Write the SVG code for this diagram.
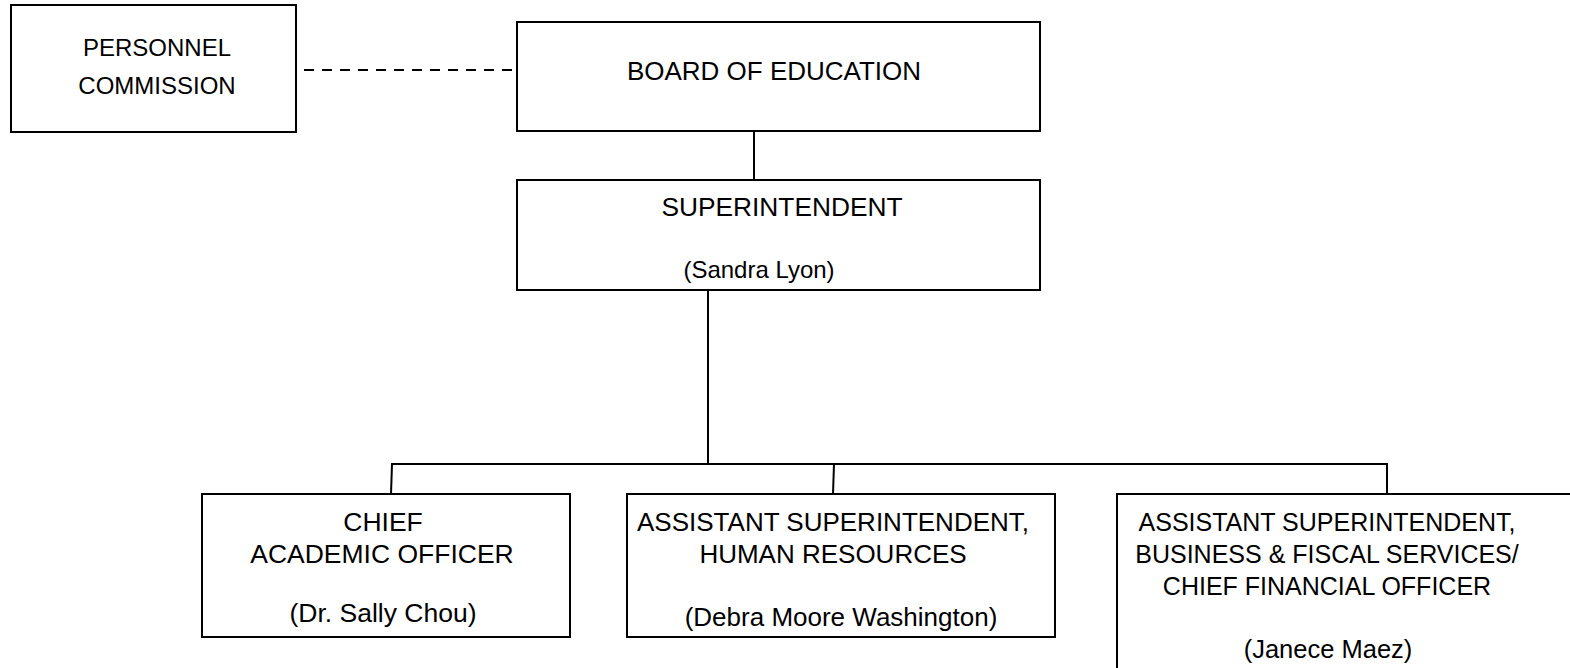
<svg xmlns="http://www.w3.org/2000/svg" width="1570" height="668" viewBox="0 0 1570 668">
<style>
.box{fill:#fff;stroke:#000;stroke-width:2}
.ln{fill:none;stroke:#000;stroke-width:2}
.t{font-family:"Liberation Sans",Arial,sans-serif;font-size:24px;fill:#000;text-anchor:middle}
</style>
<rect width="1570" height="668" fill="#fff"/>
<g id="connectors">
<line class="ln" x1="304" y1="70" x2="517" y2="70" stroke-dasharray="10,8"/>
<line class="ln" x1="754" y1="131" x2="754" y2="180"/>
<line class="ln" x1="708" y1="290" x2="708" y2="464"/>
<polyline class="ln" points="391,494 392,464 1387,464 1387,494"/>
<line class="ln" x1="834" y1="464" x2="833" y2="494"/>
</g>
<g id="personnel">
<rect class="box" x="11" y="5" width="285" height="127"/>
<text class="t" x="157" y="56">PERSONNEL</text>
<text class="t" x="157" y="94">COMMISSION</text>
</g>
<g id="board">
<rect class="box" x="517" y="22" width="523" height="109"/>
<text class="t" x="774" y="80" style="font-size:26px">BOARD OF EDUCATION</text>
</g>
<g id="superintendent">
<rect class="box" x="517" y="180" width="523" height="110"/>
<text class="t" x="782" y="216" style="font-size:26.3px">SUPERINTENDENT</text>
<text class="t" x="759" y="278">(Sandra Lyon)</text>
</g>
<g id="cao">
<rect class="box" x="202" y="494" width="368" height="143"/>
<text class="t" x="383" y="531" style="font-size:26.5px">CHIEF</text>
<text class="t" x="382" y="563" style="font-size:26.5px">ACADEMIC OFFICER</text>
<text class="t" x="383" y="622" style="font-size:26.5px">(Dr. Sally Chou)</text>
</g>
<g id="hr">
<rect class="box" x="627" y="494" width="428" height="143"/>
<text class="t" x="833" y="531" style="font-size:26px">ASSISTANT SUPERINTENDENT,</text>
<text class="t" x="833" y="563" style="font-size:26px">HUMAN RESOURCES</text>
<text class="t" x="841" y="626" style="font-size:26px">(Debra Moore Washington)</text>
</g>
<g id="cfo">
<rect class="box" x="1117" y="494" width="470" height="200"/>
<text class="t" x="1327" y="531" style="font-size:25px">ASSISTANT SUPERINTENDENT,</text>
<text class="t" x="1327" y="563" style="font-size:25px">BUSINESS &amp; FISCAL SERVICES/</text>
<text class="t" x="1327" y="595" style="font-size:25px">CHIEF FINANCIAL OFFICER</text>
<text class="t" x="1328" y="658" style="font-size:25.5px">(Janece Maez)</text>
</g>
</svg>
